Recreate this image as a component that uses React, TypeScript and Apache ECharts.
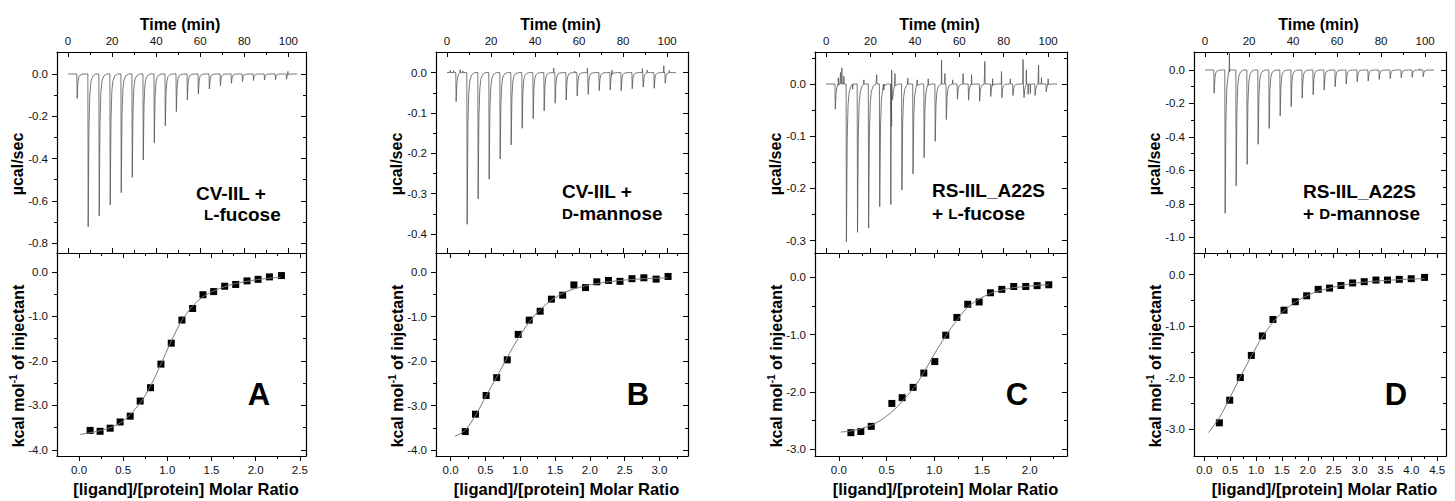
import React, { useEffect, useRef } from "react";
import * as echarts from "echarts";

const FONT = "'Liberation Sans', Arial, Helvetica, sans-serif";

// ---------- shared ----------
const injectionTimes = [4, 9, 14, 19, 24, 29, 34, 39, 44, 49, 54, 59, 64, 69, 74, 79, 84, 89, 94, 99];
const traceEnd = 104;
// shape of one injection peak: [minutes after injection, fraction of peak depth]
const PEAK_PROFILE: [number, number][] = [
  [0, 0], [0.15, 1], [0.5, 0.35], [0.9, 0.13], [1.4, 0.05], [2.2, 0.015], [3.5, 0],
];
const timeMajor = [0, 20, 40, 60, 80, 100];
const timeMinor = [10, 30, 50, 70, 90];

// ---------- panel A : CV-IIL + L-fucose ----------
const peaksA = [-0.115, -0.723, -0.672, -0.62, -0.562, -0.489, -0.407, -0.325, -0.245, -0.178, -0.123, -0.095, -0.071, -0.055, -0.044, -0.036, -0.031, -0.028, -0.028, -0.025];
const spikesA: [number, number][] = [[99.8, 0.012]];
const ratioA = [0.125, 0.238, 0.352, 0.465, 0.579, 0.692, 0.809, 0.927, 1.044, 1.165, 1.286, 1.403, 1.524, 1.649, 1.774, 1.902, 2.027, 2.156, 2.292];
const heatA = [-3.56, -3.58, -3.51, -3.37, -3.24, -2.9, -2.6, -2.07, -1.6, -1.08, -0.82, -0.51, -0.44, -0.32, -0.28, -0.2, -0.165, -0.11, -0.08];
const fitXA = [0.01, 0.13, 0.25, 0.35, 0.47, 0.58, 0.7, 0.81, 0.92, 1.04, 1.16, 1.28, 1.4, 1.53, 1.65, 1.77, 1.9, 2.02, 2.15, 2.28];
const fitYA = [-3.65, -3.61, -3.56, -3.5, -3.39, -3.2, -2.92, -2.56, -2.1, -1.57, -1.1, -0.78, -0.56, -0.42, -0.33, -0.26, -0.21, -0.17, -0.14, -0.12];

// ---------- panel B : CV-IIL + D-mannose ----------
const peaksB = [-0.072, -0.376, -0.313, -0.264, -0.214, -0.179, -0.138, -0.114, -0.095, -0.076, -0.068, -0.058, -0.054, -0.045, -0.043, -0.045, -0.04, -0.036, -0.039, -0.026];
const spikesB: [number, number][] = [[1.5, 0.006], [3, 0.005], [6, 0.007], [7.2, 0.004], [48.5, 0.011], [58, 0.004], [63.8, 0.011], [75, 0.006], [88.8, 0.01], [91, 0.006], [98.5, 0.017], [101, 0.005]];
const ratioB = [0.21, 0.357, 0.51, 0.662, 0.814, 0.971, 1.129, 1.286, 1.448, 1.61, 1.771, 1.938, 2.1, 2.267, 2.433, 2.605, 2.776, 2.952, 3.124];
const heatB = [-3.58, -3.19, -2.77, -2.37, -1.97, -1.4, -1.08, -0.88, -0.61, -0.52, -0.29, -0.35, -0.22, -0.19, -0.21, -0.15, -0.13, -0.16, -0.1];
const fitXB = [0.06, 0.21, 0.36, 0.51, 0.66, 0.81, 0.97, 1.13, 1.29, 1.45, 1.61, 1.77, 1.94, 2.1, 2.27, 2.43, 2.6, 2.78, 2.95, 3.12];
const fitYB = [-3.69, -3.55, -3.21, -2.78, -2.36, -1.93, -1.49, -1.12, -0.84, -0.63, -0.48, -0.38, -0.31, -0.26, -0.22, -0.19, -0.17, -0.15, -0.14, -0.13];

// ---------- panel C : RS-IIL_A22S + L-fucose ----------
const peaksC = [-0.048, -0.302, -0.284, -0.276, -0.235, -0.231, -0.203, -0.172, -0.141, -0.11, -0.068, -0.029, -0.031, -0.033, -0.024, -0.026, -0.022, -0.026, -0.022, -0.015];
const spikesC: [number, number][] = [
  [5.5, 0.012], [6.5, 0.022], [7.1, 0.031], [8, 0.015], [12, -0.01], [17, 0.008], [22.8, 0.018], [26, -0.012],
  [29.5, 0.027], [31, 0.02], [36.8, 0.011], [41, 0.008], [46, 0.01], [52, 0.046], [53.5, 0.02], [57, 0.008],
  [61.7, 0.02], [65.5, 0.018], [71.5, 0.043], [75, 0.01], [79, 0.024], [83, 0.01], [88.7, 0.047], [90.2, 0.027],
  [91, -0.02], [92, -0.018], [95.7, 0.036], [97, 0.012], [100, 0.01],
];
const ratioC = [0.126, 0.23, 0.339, 0.555, 0.663, 0.778, 0.89, 1.005, 1.12, 1.236, 1.35, 1.47, 1.588, 1.707, 1.832, 1.958, 2.077, 2.199];
const heatC = [-2.71, -2.69, -2.6, -2.2, -2.1, -1.92, -1.67, -1.47, -1.01, -0.7, -0.47, -0.43, -0.27, -0.21, -0.16, -0.16, -0.145, -0.13];
const fitXC = [0.02, 0.13, 0.23, 0.34, 0.45, 0.56, 0.66, 0.78, 0.89, 1.0, 1.12, 1.24, 1.35, 1.47, 1.59, 1.71, 1.83, 1.96, 2.08, 2.2];
const fitYC = [-2.7, -2.68, -2.64, -2.58, -2.48, -2.34, -2.17, -1.94, -1.66, -1.34, -1.02, -0.74, -0.52, -0.38, -0.28, -0.22, -0.18, -0.16, -0.14, -0.13];

// ---------- panel D : RS-IIL_A22S + D-mannose ----------
const peaksD = [-0.139, -0.857, -0.693, -0.564, -0.444, -0.349, -0.275, -0.219, -0.169, -0.148, -0.12, -0.1, -0.084, -0.07, -0.066, -0.056, -0.052, -0.046, -0.044, -0.04];
const spikesD: [number, number][] = [[11.1, 0.105], [97.5, 0.008]];
const ratioD = [0.29, 0.49, 0.695, 0.908, 1.12, 1.326, 1.54, 1.758, 1.977, 2.2, 2.42, 2.64, 2.865, 3.09, 3.316, 3.54, 3.767, 3.998, 4.256];
const heatD = [-2.88, -2.44, -2.0, -1.57, -1.19, -0.87, -0.69, -0.525, -0.41, -0.285, -0.26, -0.21, -0.16, -0.136, -0.104, -0.104, -0.09, -0.078, -0.052];
const fitXD = [0.08, 0.29, 0.49, 0.7, 0.91, 1.12, 1.33, 1.54, 1.76, 1.98, 2.2, 2.42, 2.64, 2.87, 3.09, 3.32, 3.54, 3.77, 4.0, 4.26];
const fitYD = [-3.07, -2.78, -2.4, -1.98, -1.58, -1.21, -0.92, -0.7, -0.53, -0.41, -0.32, -0.26, -0.21, -0.17, -0.145, -0.125, -0.11, -0.095, -0.085, -0.075];

// ---------- axis ticks ----------
const yTopMajorA = [-0.8, -0.6, -0.4, -0.2, 0];
const yTopMinorA = [-0.7, -0.5, -0.3, -0.1];
const yTopMajorB = [-0.4, -0.3, -0.2, -0.1, 0];
const yTopMinorB = [-0.35, -0.25, -0.15, -0.05];
const yTopMajorC = [-0.3, -0.2, -0.1, 0];
const yTopMinorC = [-0.25, -0.15, -0.05, 0.05];
const yTopMajorD = [-1.0, -0.8, -0.6, -0.4, -0.2, 0];
const yTopMinorD = [-0.9, -0.7, -0.5, -0.3, -0.1];
const yBotMajor4 = [-4, -3, -2, -1, 0];
const yBotMinor4 = [-3.5, -2.5, -1.5, -0.5];
const yBotMajor3 = [-3, -2, -1, 0];
const yBotMinor3 = [-2.5, -1.5, -0.5];
const xBotMajorA = [0, 0.5, 1, 1.5, 2, 2.5];
const xBotMinorA = [0.25, 0.75, 1.25, 1.75, 2.25];
const xBotMajorB = [0, 0.5, 1, 1.5, 2, 2.5, 3];
const xBotMinorB = [0.25, 0.75, 1.25, 1.75, 2.25, 2.75, 3.25];
const xBotMajorC = [0, 0.5, 1, 1.5, 2];
const xBotMinorC = [0.25, 0.75, 1.25, 1.75, 2.25];
const xBotMajorD = [0, 0.5, 1, 1.5, 2, 2.5, 3, 3.5, 4, 4.5];
const xBotMinorD = [0.25, 0.75, 1.25, 1.75, 2.25, 2.75, 3.25, 3.75, 4.25];

const proteinLabels = ["CV-IIL +", "CV-IIL +", "RS-IIL_A22S", "RS-IIL_A22S"];
const ligandLabels = ["{sc|L}-fucose", "{sc|D}-mannose", "+ {sc|L}-fucose", "+ {sc|D}-mannose"];
const panelLetters = ["A", "B", "C", "D"];

function buildTrace(depths: number[], spikes: [number, number][]) {
  const pts: [number, number][] = [[0, 0]];
  injectionTimes.forEach((t, i) => {
    PEAK_PROFILE.forEach(([dt, f]) => pts.push([t + dt, depths[i] * f]));
  });
  spikes.forEach(([ts, v]) => {
    pts.push([ts - 0.12, 0], [ts, v], [ts + 0.12, 0]);
  });
  pts.push([traceEnd, 0]);
  pts.sort((a, b) => a[0] - b[0]);
  return pts;
}

type Range = [number, number];
interface Panel {
  left: number;
  width: number;
  timeRange: Range;
  topY: Range;
  topYMajor: number[];
  topYMinor: number[];
  botX: Range;
  botXMajor: number[];
  botXMinor: number[];
  botY: Range;
  botYMajor: number[];
  botYMinor: number[];
  trace: [number, number][];
  ratio: number[];
  heat: number[];
  fitX: number[];
  fitY: number[];
  textX: number;
  line1Y: number;
  line2X: number;
  line2Y: number;
  letterX: number;
}

const panels: Panel[] = [
  {
    left: 57, width: 249, timeRange: [-5, 108], topY: [-0.847, 0.104], topYMajor: yTopMajorA, topYMinor: yTopMinorA,
    botX: [-0.25, 2.57], botXMajor: xBotMajorA, botXMinor: xBotMinorA, botY: [-4.135, 0.427], botYMajor: yBotMajor4, botYMinor: yBotMinor4,
    trace: buildTrace(peaksA, spikesA), ratio: ratioA, heat: heatA, fitX: fitXA, fitY: fitYA,
    textX: 196, line1Y: 200, line2X: 204, line2Y: 221, letterX: 259,
  },
  {
    left: 436, width: 252, timeRange: [-5, 109.5], topY: [-0.447, 0.051], topYMajor: yTopMajorB, topYMinor: yTopMinorB,
    botX: [-0.21, 3.41], botXMajor: xBotMajorB, botXMinor: xBotMinorB, botY: [-4.128, 0.426], botYMajor: yBotMajor4, botYMinor: yBotMinor4,
    trace: buildTrace(peaksB, spikesB), ratio: ratioB, heat: heatB, fitX: fitXB, fitY: fitYB,
    textX: 562, line1Y: 198, line2X: 562, line2Y: 220, letterX: 638,
  },
  {
    left: 815, width: 252, timeRange: [-5, 108.5], topY: [-0.3236, 0.0613], topYMajor: yTopMajorC, topYMinor: yTopMinorC,
    botX: [-0.25, 2.39], botXMajor: xBotMajorC, botXMinor: xBotMinorC, botY: [-3.117, 0.424], botYMajor: yBotMajor3, botYMinor: yBotMinor3,
    trace: buildTrace(peaksC, spikesC), ratio: ratioC, heat: heatC, fitX: fitXC, fitY: fitYC,
    textX: 932, line1Y: 197, line2X: 932, line2Y: 220, letterX: 1017,
  },
  {
    left: 1194, width: 252, timeRange: [-5, 109.5], topY: [-1.094, 0.1076], topYMajor: yTopMajorD, topYMinor: yTopMinorD,
    botX: [-0.2, 4.67], botXMajor: xBotMajorD, botXMinor: xBotMinorD, botY: [-3.525, 0.422], botYMajor: yBotMajor3, botYMinor: yBotMinor3,
    trace: buildTrace(peaksD, spikesD), ratio: ratioD, heat: heatD, fitX: fitXD, fitY: fitYD,
    textX: 1303, line1Y: 198, line2X: 1303, line2Y: 220, letterX: 1396,
  },
];

const TOP = 52;
const MID = 253;
const BOTTOM = 456;

function fmt(v: number, d: number) {
  const x = Math.abs(v) < 1e-9 ? 0 : v;
  return x.toFixed(d);
}

function axis(
  grid: number,
  range: Range,
  position: string,
  ticks: number[],
  o: { line: boolean; labels: boolean; inside: boolean; len: number; decimals?: number; margin?: number }
) {
  return {
    type: "value",
    gridIndex: grid,
    position,
    offset: 0,
    min: range[0],
    max: range[1],
    axisLine: { show: o.line, onZero: false, lineStyle: { color: "#000", width: 1.2 } },
    axisTick: { show: true, inside: o.inside, length: o.len, customValues: ticks, lineStyle: { color: "#000", width: 1 } },
    axisLabel: o.labels
      ? {
          show: true,
          customValues: ticks,
          formatter: (v: number) => fmt(v, o.decimals ?? 1),
          margin: o.margin ?? 8,
          fontSize: 11.5,
          color: "#111",
          fontFamily: FONT,
        }
      : { show: false },
    splitLine: { show: false },
    minorTick: { show: false },
  };
}

function buildOption() {
  const grids: any[] = [];
  const xAxes: any[] = [];
  const yAxes: any[] = [];
  const series: any[] = [];
  const graphics: any[] = [];

  panels.forEach((p, i) => {
    const gTop = grids.length;
    grids.push({ left: p.left, top: TOP, width: p.width, height: MID - TOP, containLabel: false, outerBoundsMode: "none" });
    const gBot = grids.length;
    grids.push({ left: p.left, top: MID, width: p.width, height: BOTTOM - MID, containLabel: false, outerBoundsMode: "none" });

    // ---- top plot (thermogram) ----
    const xTop = xAxes.length;
    xAxes.push(axis(gTop, p.timeRange, "top", timeMajor, { line: true, labels: true, inside: true, len: 5, decimals: 0, margin: 5 }));
    xAxes.push(axis(gTop, p.timeRange, "top", timeMinor, { line: false, labels: false, inside: true, len: 3 }));
    xAxes.push(axis(gTop, p.timeRange, "bottom", timeMajor, { line: true, labels: false, inside: true, len: 5 }));
    xAxes.push(axis(gTop, p.timeRange, "bottom", timeMinor, { line: false, labels: false, inside: true, len: 3 }));
    const yTop = yAxes.length;
    yAxes.push(axis(gTop, p.topY, "left", p.topYMajor, { line: true, labels: true, inside: false, len: 5, decimals: 1, margin: 9 }));
    yAxes.push(axis(gTop, p.topY, "left", p.topYMinor, { line: false, labels: false, inside: false, len: 3 }));
    yAxes.push(axis(gTop, p.topY, "right", p.topYMajor, { line: true, labels: false, inside: true, len: 5 }));
    yAxes.push(axis(gTop, p.topY, "right", p.topYMinor, { line: false, labels: false, inside: true, len: 3 }));

    series.push({
      type: "line",
      xAxisIndex: xTop,
      yAxisIndex: yTop,
      data: p.trace,
      showSymbol: false,
      symbol: "none",
      lineStyle: { color: "#555", width: 0.8 },
      clip: true,
      silent: true,
    });

    // ---- bottom plot (isotherm) ----
    const xBot = xAxes.length;
    xAxes.push(axis(gBot, p.botX, "bottom", p.botXMajor, { line: true, labels: true, inside: false, len: 5, decimals: 1, margin: 8 }));
    xAxes.push(axis(gBot, p.botX, "bottom", p.botXMinor, { line: false, labels: false, inside: false, len: 3 }));
    xAxes.push(axis(gBot, p.botX, "top", p.botXMajor, { line: true, labels: false, inside: true, len: 5 }));
    xAxes.push(axis(gBot, p.botX, "top", p.botXMinor, { line: false, labels: false, inside: true, len: 3 }));
    const yBot = yAxes.length;
    yAxes.push(axis(gBot, p.botY, "left", p.botYMajor, { line: true, labels: true, inside: false, len: 5, decimals: 1, margin: 9 }));
    yAxes.push(axis(gBot, p.botY, "left", p.botYMinor, { line: false, labels: false, inside: false, len: 3 }));
    yAxes.push(axis(gBot, p.botY, "right", p.botYMajor, { line: true, labels: false, inside: true, len: 5 }));
    yAxes.push(axis(gBot, p.botY, "right", p.botYMinor, { line: false, labels: false, inside: true, len: 3 }));

    series.push({
      type: "line",
      xAxisIndex: xBot,
      yAxisIndex: yBot,
      data: p.fitX.map((x, k) => [x, p.fitY[k]]),
      showSymbol: false,
      symbol: "none",
      smooth: 0.3,
      lineStyle: { color: "#777", width: 1 },
      silent: true,
    });
    series.push({
      type: "scatter",
      xAxisIndex: xBot,
      yAxisIndex: yBot,
      data: p.ratio.map((x, k) => [x, p.heat[k]]),
      symbol: "rect",
      symbolSize: 7,
      itemStyle: { color: "#000", opacity: 1 },
      silent: true,
    });

    // ---- texts ----
    const cx = p.left + p.width / 2;
    graphics.push({
      type: "text",
      x: cx - 1.5,
      y: 24,
      style: { text: "Time (min)", fill: "#000", fontFamily: FONT, fontWeight: "bold", fontSize: 16, align: "center", verticalAlign: "middle", textAlign: "center", textVerticalAlign: "middle" },
    });
    graphics.push({
      type: "text",
      x: cx + 4.5,
      y: 489,
      style: { text: "[ligand]/[protein] Molar Ratio", fill: "#000", fontFamily: FONT, fontWeight: "bold", fontSize: 16.5, align: "center", verticalAlign: "middle", textAlign: "center", textVerticalAlign: "middle" },
    });
    graphics.push({
      type: "text",
      x: p.left - 40,
      y: 164,
      rotation: Math.PI / 2,
      style: { text: "µcal/sec", fill: "#000", fontFamily: FONT, fontWeight: "bold", fontSize: 16, align: "center", verticalAlign: "middle", textAlign: "center", textVerticalAlign: "middle" },
    });
    graphics.push({
      type: "text",
      x: p.left - 40,
      y: 366,
      rotation: Math.PI / 2,
      style: {
        text: "{m|kcal mol}{s|-1}{m| of injectant}",
        fill: "#000",
        fontFamily: FONT,
        fontWeight: "bold",
        fontSize: 16,
        align: "center",
        verticalAlign: "middle",
        textAlign: "center",
        textVerticalAlign: "middle",
        rich: {
          m: { fontFamily: FONT, fontWeight: "bold", fontSize: 16, fill: "#000", lineHeight: 18, verticalAlign: "bottom" },
          s: { fontFamily: FONT, fontWeight: "bold", fontSize: 10, fill: "#000", lineHeight: 18, verticalAlign: "top" },
        },
      },
    });
    graphics.push({
      type: "text",
      x: p.textX,
      y: p.line1Y - 6.6,
      style: { text: proteinLabels[i], fill: "#000", fontFamily: FONT, fontWeight: "bold", fontSize: 19, align: "left", verticalAlign: "middle", textAlign: "left", textVerticalAlign: "middle" },
    });
    graphics.push({
      type: "text",
      x: p.line2X,
      y: p.line2Y - 6.6,
      style: {
        text: ligandLabels[i],
        fill: "#000",
        fontFamily: FONT,
        fontWeight: "bold",
        fontSize: 19,
        align: "left",
        verticalAlign: "middle",
        textAlign: "left",
        textVerticalAlign: "middle",
        rich: {
          sc: { fontFamily: FONT, fontWeight: "bold", fontSize: 15, fill: "#000" },
        },
      },
    });
    graphics.push({
      type: "text",
      x: p.letterX,
      y: 405 - 11,
      style: { text: panelLetters[i], fill: "#000", fontFamily: FONT, fontWeight: "bold", fontSize: 31, align: "center", verticalAlign: "middle", textAlign: "center", textVerticalAlign: "middle" },
    });
  });

  return {
    animation: false,
    backgroundColor: "#fff",
    grid: grids,
    xAxis: xAxes,
    yAxis: yAxes,
    series,
    graphic: graphics,
  };
}

export default function App() {
  const ref = useRef<HTMLDivElement>(null);
  useEffect(() => {
    if (!ref.current) return;
    const chart = echarts.init(ref.current, undefined, { renderer: "svg" });
    chart.setOption(buildOption() as any);
    return () => chart.dispose();
  }, []);
  return <div ref={ref} style={{ position: "fixed", left: 0, top: 0, width: 1455, height: 501, background: "#fff" }} />;
}
